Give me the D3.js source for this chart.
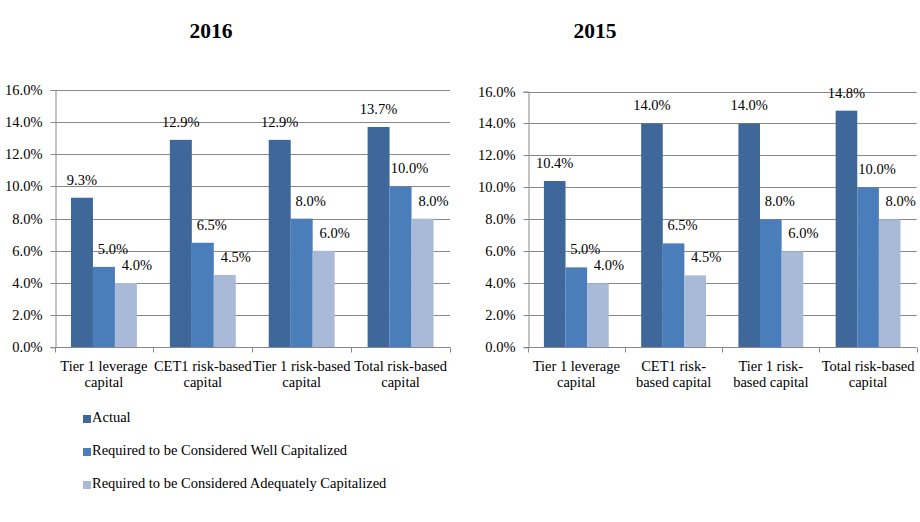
<!DOCTYPE html>
<html>
<head>
<meta charset="utf-8">
<script src="https://cdn.jsdelivr.net/npm/d3@7"></script>
<style>
    body { margin: 0; background: #fff; }
    text { font-family: "Liberation Serif", "Times New Roman", serif; fill: #000; }
</style>
</head>
<body>
<div class="visHolder"></div>
<script>
// chart values
const seriesNames = [
    "Actual",
    "Required to be Considered Well Capitalized",
    "Required to be Considered Adequately Capitalized"
];
const categories2016 = [
    ["Tier 1 leverage", "capital"],
    ["CET1 risk-based", "capital"],
    ["Tier 1 risk-based", "capital"],
    ["Total risk-based", "capital"]
];
const categories2015 = [
    ["Tier 1 leverage", "capital"],
    ["CET1 risk-", "based capital"],
    ["Tier 1 risk-", "based capital"],
    ["Total risk-based", "capital"]
];
const actual2016 = [9.3, 12.9, 12.9, 13.7];
const wellCap2016 = [5.0, 6.5, 8.0, 10.0];
const adequate2016 = [4.0, 4.5, 6.0, 8.0];
const actual2015 = [10.4, 14.0, 14.0, 14.8];
const wellCap2015 = [5.0, 6.5, 8.0, 10.0];
const adequate2015 = [4.0, 4.5, 6.0, 8.0];
const yTicks = [0, 2, 4, 6, 8, 10, 12, 14, 16];

const colors = ["#3E679A", "#4A7EBB", "#A9BAD8"];
const gridColor = "#888888";
const fontSize = 14.5;
const labelDx = [0, 9, 11];

const svg = d3.select(".visHolder")
    .append("svg")
    .attr("width", 920)
    .attr("height", 522);

function drawChart(cfg) {
    const yScale = d3.scaleLinear()
        .domain([0, 16])
        .range([cfg.bottom, cfg.top]);

    const xScale = d3.scaleBand()
        .domain(d3.range(cfg.categories.length))
        .range([cfg.left, cfg.right]);

    const w = xScale.bandwidth();
    const xInner = d3.scaleBand()
        .domain([0, 1, 2])
        .range([w / 6, w - w / 6]);

    const g = svg.append("g");

    // title
    g.append("text")
        .attr("x", cfg.titleX)
        .attr("y", 33)
        .attr("text-anchor", "middle")
        .attr("dominant-baseline", "middle")
        .style("font-size", "21.5px")
        .style("font-weight", "bold")
        .text(cfg.title);

    // gridlines
    g.append("g")
        .selectAll("line")
        .data(yTicks.filter(d => d > 0))
        .enter()
        .append("line")
        .attr("x1", cfg.left)
        .attr("x2", cfg.right)
        .attr("y1", d => Math.round(yScale(d)) + 0.5)
        .attr("y2", d => Math.round(yScale(d)) + 0.5)
        .attr("stroke", gridColor)
        .attr("stroke-width", 1);

    // y axis
    const yAxis = g.append("g")
        .attr("transform", "translate(" + (Math.round(cfg.left) + 0.5) + ",0)")
        .call(d3.axisLeft(yScale)
            .tickValues(yTicks)
            .tickFormat(d => d.toFixed(1) + "%")
            .tickSize(5)
            .tickPadding(8));
    yAxis.select(".domain").attr("stroke", gridColor);
    yAxis.selectAll(".tick line").attr("stroke", gridColor);
    yAxis.selectAll(".tick text")
        .style("font-family", "Liberation Serif")
        .style("font-size", fontSize + "px")
        .attr("fill", "#000");
    yAxis.selectAll(".tick").attr("transform", d => "translate(0," + (Math.round(yScale(d)) + 0.5) + ")");

    // bars
    const rows = cfg.values.map((vals, s) => vals.map((v, i) => ({ s: s, i: i, v: v })));
    const bars = g.append("g");
    rows.forEach(row => {
        bars.selectAll(null)
            .data(row)
            .enter()
            .append("rect")
            .attr("x", d => xScale(d.i) + xInner(d.s))
            .attr("y", d => yScale(d.v))
            .attr("width", xInner.bandwidth())
            .attr("height", d => yScale(0) - yScale(d.v))
            .attr("fill", d => colors[d.s]);
    });

    // x axis line and category ticks
    const base = Math.round(yScale(0)) + 0.5;
    g.append("line")
        .attr("x1", cfg.left)
        .attr("x2", cfg.right)
        .attr("y1", base)
        .attr("y2", base)
        .attr("stroke", gridColor);
    g.append("g")
        .selectAll("line")
        .data(d3.range(cfg.categories.length + 1))
        .enter()
        .append("line")
        .attr("x1", i => Math.round(i < cfg.categories.length ? xScale(i) : cfg.right) + 0.5)
        .attr("x2", i => Math.round(i < cfg.categories.length ? xScale(i) : cfg.right) + 0.5)
        .attr("y1", base)
        .attr("y2", base + 5)
        .attr("stroke", gridColor);

    // category labels
    const cats = g.append("g")
        .selectAll("text")
        .data(cfg.categories)
        .enter()
        .append("text")
        .attr("text-anchor", "middle")
        .style("font-size", fontSize + "px");
    cats.selectAll("tspan")
        .data((d, i) => d.map(line => ({ line: line, i: i })))
        .enter()
        .append("tspan")
        .attr("x", d => xScale(d.i) + w / 2)
        .attr("y", (d, j) => base + 23 + j * 16.7)
        .text(d => d.line);

    // data labels
    rows.forEach(row => {
        g.append("g")
            .selectAll("text")
            .data(row)
            .enter()
            .append("text")
            .attr("x", d => xScale(d.i) + xInner(d.s) + xInner.bandwidth() / 2 + labelDx[d.s])
            .attr("y", d => yScale(d.v) - 13)
            .attr("text-anchor", "middle")
            .style("font-size", fontSize + "px")
            .text(d => d.v.toFixed(1) + "%");
    });
}

drawChart({
    title: "2016",
    titleX: 211,
    left: 54.5,
    right: 450,
    top: 90,
    bottom: 347.3,
    categories: categories2016,
    values: [actual2016, wellCap2016, adequate2016]
});

drawChart({
    title: "2015",
    titleX: 595,
    left: 527.7,
    right: 916.7,
    top: 91.5,
    bottom: 347.3,
    categories: categories2015,
    values: [actual2015, wellCap2015, adequate2015]
});

// legend
const legend = svg.append("g")
    .selectAll("g")
    .data(seriesNames)
    .enter()
    .append("g")
    .attr("transform", (d, i) => "translate(83," + (419 + i * 33) + ")");

legend.append("rect")
    .attr("x", 0)
    .attr("y", -4)
    .attr("width", 8)
    .attr("height", 8)
    .attr("fill", (d, i) => colors[i]);

legend.append("text")
    .attr("x", 9)
    .attr("y", 0)
    .attr("dominant-baseline", "middle")
    .style("font-size", fontSize + "px")
    .text(d => d);
</script>
</body>
</html>
